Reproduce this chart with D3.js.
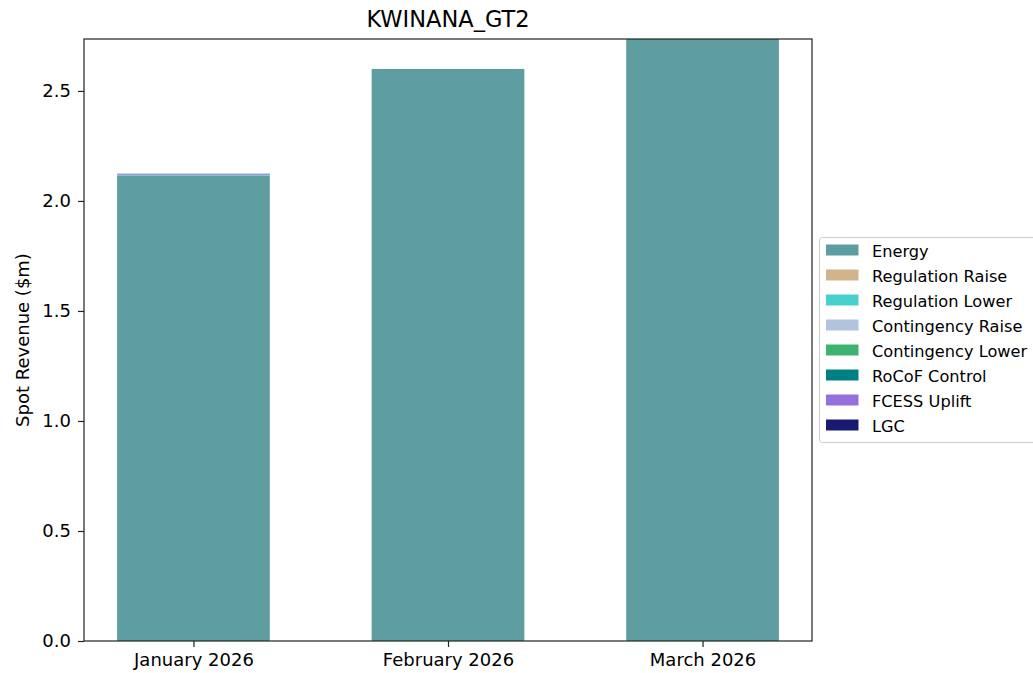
<!DOCTYPE html>
<html>
<head>
<meta charset="utf-8">
<script src="https://cdn.jsdelivr.net/npm/d3@7"></script>
<style>
  body { margin: 0; background: #fff; }
  text { font-family: "DejaVu Sans", sans-serif; fill: #000; }
</style>
</head>
<body>
<script>
// chart data
var months = ["January 2026", "February 2026", "March 2026"];
var series = ["Energy", "Regulation Raise", "Regulation Lower", "Contingency Raise",
              "Contingency Lower", "RoCoF Control", "FCESS Uplift", "LGC"];
var colors = ["#5f9ea0", "#d2b48c", "#48d1cc", "#b0c4de", "#3cb371", "#008080", "#9370db", "#191970"];
var energy = [2.116, 2.600, 2.736];
var regRaise = [0, 0, 0];
var regLower = [0.003, 0, 0];
var contRaise = [0, 0, 0];
var contLower = [0, 0, 0];
var rocof = [0, 0, 0];
var fcess = [0.005, 0, 0];
var lgc = [0, 0, 0];
var yTicks = [0, 0.5, 1.0, 1.5, 2.0, 2.5];

var values = [energy, regRaise, regLower, contRaise, contLower, rocof, fcess, lgc];
var rows = months.map(function(m, i) {
  var r = {month: m, idx: i};
  series.forEach(function(s, j) { r[s] = values[j][i]; });
  return r;
});

var W = 1033, H = 673;
var plotL = 84, plotR = 812, plotT = 39, plotB = 641;

var svg = d3.select("body").append("svg")
    .attr("width", W).attr("height", H);

var x = d3.scaleLinear().domain([-0.43, 2.43]).range([plotL, plotR]);
var totalMax = d3.max(rows, function(r) { return d3.sum(series, function(s) { return r[s]; }); });
var y = d3.scaleLinear().domain([0, totalMax]).range([plotB, plotT]);
var barW = 0.6;

var stack = d3.stack().keys(series)(rows);

svg.append("g").selectAll("g")
  .data(stack)
  .enter().append("g")
    .attr("fill", function(d, i) { return colors[i]; })
  .selectAll("rect")
  .data(function(d) { return d; })
  .enter().append("rect")
    .attr("x", function(d) { return x(d.data.idx - barW / 2); })
    .attr("width", function(d) { return x(barW) - x(0); })
    .attr("y", function(d) { return y(d[1]); })
    .attr("height", function(d) { return y(d[0]) - y(d[1]); });

// axes
var yAxis = d3.axisLeft(y).tickValues(yTicks).tickFormat(d3.format(".1f")).tickSizeOuter(0).tickSize(6).tickPadding(7);
var gy = svg.append("g").attr("transform", "translate(" + plotL + ",0)").call(yAxis);
var xAxis = d3.axisBottom(x).tickValues([0, 1, 2]).tickFormat(function(d) { return months[d]; }).tickSizeOuter(0).tickSize(6).tickPadding(6);
var gx = svg.append("g").attr("transform", "translate(0," + plotB + ")").call(xAxis);

[gx, gy].forEach(function(g) {
  g.select(".domain").remove();
  g.selectAll("text").attr("font-size", "18px").attr("font-family", "DejaVu Sans").attr("fill", "#222");
  g.selectAll("line").attr("stroke", "#222").attr("stroke-width", 1.2);
});

// frame
svg.append("rect")
    .attr("x", plotL).attr("y", plotT)
    .attr("width", plotR - plotL).attr("height", plotB - plotT)
    .attr("fill", "none").attr("stroke", "#222").attr("stroke-width", 1.2);

// title & label
svg.append("text")
    .attr("x", (plotL + plotR) / 2).attr("y", 27)
    .attr("text-anchor", "middle").attr("font-size", "22.5px").attr("fill", "#222")
    .text("KWINANA_GT2");

svg.append("text")
    .attr("transform", "translate(29," + ((plotT + plotB) / 2) + ") rotate(-90)")
    .attr("text-anchor", "middle").attr("font-size", "18px").attr("fill", "#222")
    .text("Spot Revenue ($m)");

// legend
var lg = svg.append("g").attr("transform", "translate(819,237)");
lg.append("rect")
    .attr("x", 0.5).attr("y", 0.5).attr("width", 225).attr("height", 205)
    .attr("rx", 3).attr("fill", "#fff").attr("stroke", "#cccccc");
var item = lg.selectAll("g.item")
  .data(series)
  .enter().append("g")
    .attr("class", "item")
    .attr("transform", function(d, i) { return "translate(7," + (14 + i * 25) + ")"; });
item.append("rect")
    .attr("x", 0).attr("y", -6.5).attr("width", 32.5).attr("height", 11)
    .attr("fill", function(d, i) { return colors[i]; });
item.append("text")
    .attr("x", 46).attr("y", 5.5)
    .attr("font-size", "16.2px").attr("fill", "#222")
    .text(function(d) { return d; });
</script>
</body>
</html>
